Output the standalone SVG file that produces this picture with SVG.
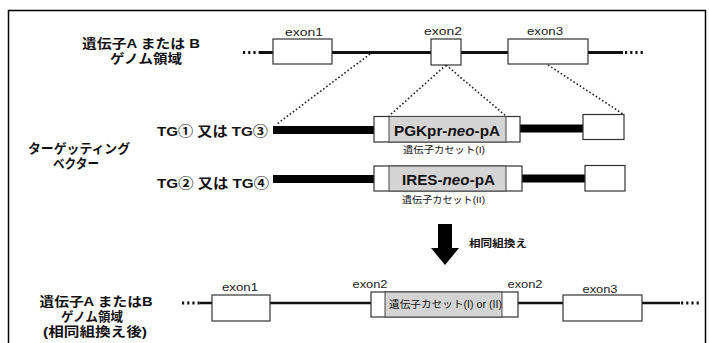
<svg xmlns="http://www.w3.org/2000/svg" width="709" height="343" viewBox="0 0 709 343">
<defs>
<style>
text{font-family:"Liberation Sans","Noto Sans CJK JP",sans-serif;fill:#111}
.lbl{font-size:13px;font-weight:bold;text-anchor:middle}
.tg{font-size:13.5px;font-weight:bold}
.ex{font-size:11.5px;fill:#222;text-anchor:middle}
.cas{font-size:15px;font-weight:bold}
.sub{font-size:9.5px}
.box{fill:#fff;stroke:#333;stroke-width:1.2}
.gbox{fill:#d4d4d4;stroke:#444;stroke-width:1}
.thin{stroke:#111;stroke-width:3;fill:none}
.thin2{stroke:#111;stroke-width:2.5;fill:none}
.thick{stroke:#000;stroke-width:8;fill:none}
.dots{stroke:#111;stroke-width:3;stroke-dasharray:2.2 3;fill:none}
.dotl{stroke:#222;stroke-width:1.6;stroke-dasharray:1.6 2.2;fill:none}
</style>
</defs>
<rect x="0" y="0" width="709" height="343" fill="#fff"/>
<rect x="8.5" y="10.5" width="697" height="340" fill="none" stroke="#000" stroke-width="1.5"/>

<g id="connectors">
<line class="thin" x1="260" y1="52.5" x2="623" y2="52.5"/>
<line class="dots" x1="243" y1="52.5" x2="260" y2="52.5"/>
<line class="dots" x1="625" y1="52.5" x2="645" y2="52.5"/>
<line class="dotl" x1="370" y1="54" x2="277" y2="124"/>
<line class="dotl" x1="446" y1="65" x2="389" y2="116"/>
<line class="dotl" x1="446" y1="65" x2="506" y2="116"/>
<line class="dotl" x1="548" y1="65" x2="623" y2="114"/>
<line class="thick" x1="273" y1="130" x2="374" y2="130"/>
<line class="thick" x1="520" y1="128.5" x2="583" y2="128.5"/>
<line class="thick" x1="273" y1="179" x2="374" y2="179"/>
<line class="thick" x1="522" y1="178.5" x2="585" y2="178.5"/>
<line class="thin2" x1="200" y1="303" x2="680" y2="303"/>
<line class="dots" x1="182" y1="303" x2="200" y2="303"/>
<line class="dots" x1="681" y1="303" x2="700" y2="303"/>
<path d="M438 224 H452 V248 H459 L445 265 L431 248 H438 Z" fill="#000"/>
</g>

<g id="label-genome">
<text class="lbl" x="141" y="48" textLength="118" lengthAdjust="spacingAndGlyphs">遺伝子A または B</text>
<text class="lbl" x="146" y="63" textLength="72" lengthAdjust="spacingAndGlyphs">ゲノム領域</text>
</g>
<g id="exon1-top">
<rect class="box" x="273" y="39" width="59" height="25"/>
<text class="ex" x="304" y="36" textLength="38" lengthAdjust="spacingAndGlyphs">exon1</text>
</g>
<g id="exon2-top">
<rect class="box" x="431" y="39" width="30" height="26"/>
<text class="ex" x="443" y="35" textLength="38" lengthAdjust="spacingAndGlyphs">exon2</text>
</g>
<g id="exon3-top">
<rect class="box" x="508" y="39" width="80" height="25"/>
<text class="ex" x="545" y="35" textLength="36" lengthAdjust="spacingAndGlyphs">exon3</text>
</g>

<g id="label-vector">
<text class="lbl" x="79" y="153" textLength="102" lengthAdjust="spacingAndGlyphs">ターゲッティング</text>
<text class="lbl" x="76" y="168" textLength="46" lengthAdjust="spacingAndGlyphs">ベクター</text>
</g>
<g id="tg13">
<text class="tg" x="157" y="136" textLength="111" lengthAdjust="spacingAndGlyphs">TG① 又は TG③</text>
<rect class="box" x="374" y="116.5" width="146" height="25.5"/>
<rect class="gbox" x="389" y="116.5" width="117" height="25.5"/>
<text class="cas" x="394" y="136" textLength="106" lengthAdjust="spacingAndGlyphs"><tspan>PGKpr-</tspan><tspan font-style="italic">neo</tspan><tspan>-pA</tspan></text>
<text class="sub" x="403" y="153" textLength="82" lengthAdjust="spacingAndGlyphs">遺伝子カセット(I)</text>
<rect class="box" x="583" y="114.5" width="41" height="25"/>
</g>
<g id="tg24">
<text class="tg" x="157" y="188" textLength="112" lengthAdjust="spacingAndGlyphs">TG② 又は TG④</text>
<rect class="box" x="374" y="166" width="148" height="25"/>
<rect class="gbox" x="389" y="166" width="117" height="25"/>
<text class="cas" x="402" y="185" textLength="93" lengthAdjust="spacingAndGlyphs"><tspan>IRES-</tspan><tspan font-style="italic">neo</tspan><tspan>-pA</tspan></text>
<text class="sub" x="402" y="203" textLength="83" lengthAdjust="spacingAndGlyphs">遺伝子カセット(II)</text>
<rect class="box" x="585" y="165.5" width="40" height="25.5"/>
</g>

<g id="label-recomb">
<text x="469" y="247" style="font-size:10px;font-weight:bold" textLength="58" lengthAdjust="spacingAndGlyphs">相同組換え</text>
</g>

<g id="label-genome-after">
<text class="lbl" x="96" y="306" textLength="113" lengthAdjust="spacingAndGlyphs">遺伝子A またはB</text>
<text class="lbl" x="92" y="321" textLength="62" lengthAdjust="spacingAndGlyphs">ゲノム領域</text>
<text class="lbl" x="95" y="336" textLength="104" lengthAdjust="spacingAndGlyphs">(相同組換え後)</text>
</g>
<g id="exon1-bottom">
<rect class="box" x="212" y="295" width="58" height="26"/>
<text class="ex" x="240" y="291" textLength="36" lengthAdjust="spacingAndGlyphs">exon1</text>
</g>
<g id="cassette-bottom">
<rect class="box" x="371" y="292" width="147" height="25"/>
<rect class="gbox" x="385" y="292" width="117" height="25"/>
<text x="389" y="308" style="font-size:10px" textLength="113" lengthAdjust="spacingAndGlyphs">遺伝子カセット(I) or (II)</text>
<text class="ex" x="370" y="288" textLength="35" lengthAdjust="spacingAndGlyphs">exon2</text>
<text class="ex" x="525" y="288" textLength="35" lengthAdjust="spacingAndGlyphs">exon2</text>
</g>
<g id="exon3-bottom">
<rect class="box" x="563" y="295" width="79" height="26"/>
<text class="ex" x="600" y="293" textLength="35" lengthAdjust="spacingAndGlyphs">exon3</text>
</g>
</svg>
